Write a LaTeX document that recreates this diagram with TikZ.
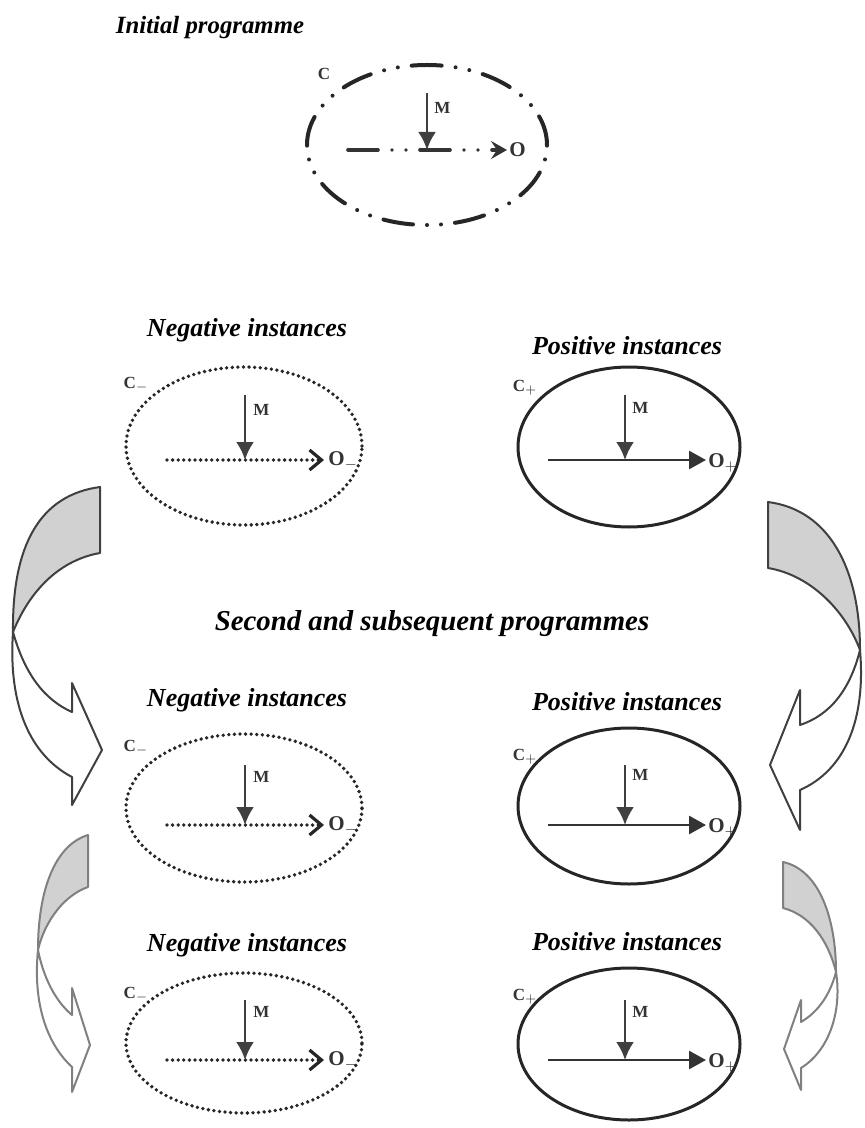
\documentclass[tikz,border=0pt]{standalone}
\usepackage{fontspec}
\setmainfont{Liberation Serif}
\usetikzlibrary{shapes.geometric,arrows.meta}

\begin{document}
\begin{tikzpicture}[x=0.5pt,y=-0.5pt,
    every node/.style={inner sep=0pt},
    heading/.style={font=\fontsize{13}{15}\selectfont\bfseries\itshape},
    bigheading/.style={font=\fontsize{14.4}{17}\selectfont\bfseries\itshape},
    lbl/.style={font=\fontsize{8.5}{9}\selectfont\bfseries,text=black!80},
    outlbl/.style={font=\fontsize{10.5}{11}\selectfont\bfseries,text=black!80,anchor=west},
    ring/.style={ellipse,draw=black!85,line width=1.5pt},
    dashring/.style={ring,line width=2pt,line cap=round,
      dash pattern=on 15pt off 7pt on 0pt off 7pt on 0pt off 7pt},
    dotring/.style={ring,line width=1.9pt,line cap=round,dash pattern=on 0pt off 2.8pt},
    marrow/.style={draw=black!75,line width=1.3pt,-{Latex[length=9pt,width=9pt]}},
    solidflow/.style={draw=black!80,line width=1.4pt,-{Triangle[length=8.5pt,width=9pt]},shorten >=1pt},
    dotflow/.style={draw=black!85,line width=1.9pt,line cap=round,dash pattern=on 0pt off 2.8pt,
      -{Straight Barb[length=6pt,width=10pt,line width=1.6pt]},shorten >=2pt},
    dashflow/.style={draw=black!80,line width=1.8pt,line cap=round,
      dash pattern=on 15pt off 7pt on 0pt off 7pt on 0pt off 7pt,
      -{Stealth[length=8pt,width=9pt,inset=3pt]},shorten >=1pt},
    backface/.style={draw=black!75,fill=black!18,line width=1pt,line join=round},
    frontface/.style={draw=black!75,fill=white,line width=1pt,line join=round},
    paleback/.style={backface,draw=black!50},
    palefront/.style={frontface,draw=black!50}]
  \useasboundingbox (0,0) rectangle (864,1128);

  % initial programme
  \node[heading,font=\fontsize{12.4}{15}\selectfont\bfseries\itshape] (ttlini) at (210,28) {Initial programme};
  \node[dashring,minimum width=120pt,minimum height=80pt] (ini) at (427,145) {};
  \node[lbl] (inic) at (324,74) {C};
  \node[lbl,anchor=west] (inimlbl) at (434,108) {M};
  \node[outlbl] (inio) at (509,150) {O};
  \coordinate (inim) at (427,93);
  \coordinate (inij) at (427,150);
  \coordinate (inis) at (348,150);
  \draw[dashflow] (inis) -- (inio);
  \draw[marrow] (inim) -- (inij);

  % first instances
  \node[heading] (ttlneg1) at (247,330) {Negative instances};
  \node[heading] (ttlpos1) at (627,346) {Positive instances};
  \node[dotring,minimum width=118pt,minimum height=79pt] (neg1) at (244,446) {};
  \node[lbl] (neg1c) at (136,385) {C$_-$};
  \node[lbl,anchor=west] (neg1mlbl) at (253,410) {M};
  \node[outlbl] (neg1o) at (328,461) {O$_-$};
  \coordinate (neg1m) at (245,395);
  \coordinate (neg1j) at (245,460);
  \coordinate (neg1s) at (167,460);
  \draw[dotflow] (neg1s) -- (neg1o.west |- neg1s);
  \draw[marrow] (neg1m) -- (neg1j);
  \node[ring,minimum width=111pt,minimum height=80pt] (pos1) at (629,447) {};
  \node[lbl] (pos1c) at (525,388) {C$_+$};
  \node[lbl,anchor=west] (pos1mlbl) at (632,408) {M};
  \node[outlbl] (pos1o) at (708,463) {O$_+$};
  \coordinate (pos1m) at (625,395);
  \coordinate (pos1j) at (625,460);
  \coordinate (pos1s) at (548,460);
  \draw[solidflow] (pos1s) -- (pos1o.west |- pos1s);
  \draw[marrow] (pos1m) -- (pos1j);

  % second and subsequent programmes
  \node[bigheading] (ttlsub) at (432,624) {Second and subsequent programmes};

  \node[heading] (ttlneg2) at (247,700) {Negative instances};
  \node[heading] (ttlpos2) at (627,702) {Positive instances};
  \node[dotring,minimum width=118pt,minimum height=74pt] (neg2) at (244,808) {};
  \node[lbl] (neg2c) at (136,748) {C$_-$};
  \node[lbl,anchor=west] (neg2mlbl) at (253,777) {M};
  \node[outlbl] (neg2o) at (328,826) {O$_-$};
  \coordinate (neg2m) at (245,765);
  \coordinate (neg2j) at (245,825);
  \coordinate (neg2s) at (167,825);
  \draw[dotflow] (neg2s) -- (neg2o.west |- neg2s);
  \draw[marrow] (neg2m) -- (neg2j);
  \node[ring,minimum width=111pt,minimum height=78pt] (pos2) at (629,806) {};
  \node[lbl] (pos2c) at (525,757) {C$_+$};
  \node[lbl,anchor=west] (pos2mlbl) at (632,775) {M};
  \node[outlbl] (pos2o) at (708,828) {O$_+$};
  \coordinate (pos2m) at (625,765);
  \coordinate (pos2j) at (625,825);
  \coordinate (pos2s) at (548,825);
  \draw[solidflow] (pos2s) -- (pos2o.west |- pos2s);
  \draw[marrow] (pos2m) -- (pos2j);

  \node[heading] (ttlneg3) at (247,945) {Negative instances};
  \node[heading] (ttlpos3) at (627,942) {Positive instances};
  \node[dotring,minimum width=118pt,minimum height=70pt] (neg3) at (244,1043) {};
  \node[lbl] (neg3c) at (136,995) {C$_-$};
  \node[lbl,anchor=west] (neg3mlbl) at (253,1012) {M};
  \node[outlbl] (neg3o) at (328,1061) {O$_-$};
  \coordinate (neg3m) at (245,1000);
  \coordinate (neg3j) at (245,1060);
  \coordinate (neg3s) at (167,1060);
  \draw[dotflow] (neg3s) -- (neg3o.west |- neg3s);
  \draw[marrow] (neg3m) -- (neg3j);
  \node[ring,minimum width=111pt,minimum height=76pt] (pos3) at (629,1044) {};
  \node[lbl] (pos3c) at (525,997) {C$_+$};
  \node[lbl,anchor=west] (pos3mlbl) at (632,1012) {M};
  \node[outlbl] (pos3o) at (708,1063) {O$_+$};
  \coordinate (pos3m) at (625,1000);
  \coordinate (pos3j) at (625,1060);
  \coordinate (pos3s) at (548,1060);
  \draw[solidflow] (pos3s) -- (pos3o.west |- pos3s);
  \draw[marrow] (pos3m) -- (pos3j);

  % twisted arrows, left side
  \draw[backface] (100,487) .. controls (40,495) and (12,545) .. (13,632)
    .. controls (30,590) and (60,560) .. (100,553) -- cycle;
  \draw[frontface] (13,632) .. controls (25,675) and (45,700) .. (72,712) -- (72,683) -- (102,750)
    -- (72,805) -- (72,777) .. controls (30,755) and (8,705) .. (13,632) -- cycle;
  \draw[paleback] (88,835) .. controls (55,845) and (38,890) .. (38,950)
    .. controls (45,920) and (65,895) .. (88,887) -- cycle;
  \draw[palefront] (38,950) .. controls (45,985) and (60,1005) .. (72,1015) -- (72,988) -- (90,1045)
    -- (72,1092) -- (72,1067) .. controls (45,1042) and (33,1000) .. (38,950) -- cycle;

  % twisted arrows, right side
  \draw[backface] (768,502) .. controls (830,510) and (860,570) .. (860,650)
    .. controls (845,610) and (810,575) .. (768,568) -- cycle;
  \draw[frontface] (860,650) .. controls (850,690) and (830,715) .. (800,725) -- (800,690) -- (770,765)
    -- (800,830) -- (800,790) .. controls (845,770) and (866,720) .. (860,650) -- cycle;
  \draw[paleback] (783,862) .. controls (820,870) and (836,920) .. (836,972)
    .. controls (828,940) and (810,915) .. (783,908) -- cycle;
  \draw[palefront] (836,972) .. controls (830,995) and (818,1012) .. (801,1022) -- (801,1000) -- (784,1049)
    -- (801,1090) -- (801,1068) .. controls (830,1050) and (842,1010) .. (836,972) -- cycle;
\end{tikzpicture}
\end{document}
